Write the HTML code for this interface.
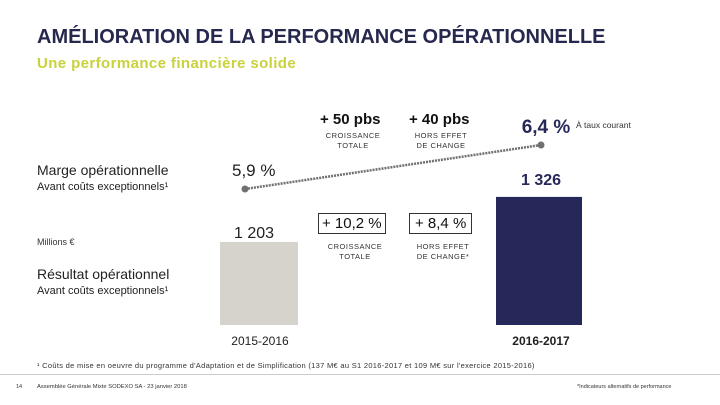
<!DOCTYPE html>
<html><head><meta charset="utf-8"><style>
body{margin:0;width:720px;height:405px;overflow:hidden;background:#fff;font-family:"Liberation Sans",sans-serif;position:relative}
.a{position:absolute;white-space:nowrap}
.s{font-size:7.5px;color:#333;text-align:center;letter-spacing:0.5px;line-height:10px}
</style></head><body>
<div class="a" style="left:37px;top:26px;font-size:20px;font-weight:bold;color:#27284d">AMÉLIORATION DE LA PERFORMANCE OPÉRATIONNELLE</div>
<div class="a" style="left:37px;top:55px;font-size:15px;letter-spacing:0.4px;font-weight:bold;color:#c9d23c">Une performance financière solide</div>

<div class="a" style="left:37px;top:162px;font-size:14px;color:#222">Marge opérationnelle</div>
<div class="a" style="left:37px;top:181px;font-size:11px;color:#222">Avant coûts exceptionnels¹</div>
<div class="a" style="left:37px;top:237px;font-size:9px;color:#333">Millions €</div>
<div class="a" style="left:37px;top:266px;font-size:14px;color:#222">Résultat opérationnel</div>
<div class="a" style="left:37px;top:285px;font-size:11px;color:#222">Avant coûts exceptionnels¹</div>

<div class="a" style="left:320px;top:111px;font-size:15px;font-weight:bold;color:#111">+ 50 pbs</div>
<div class="a s" style="left:318px;top:131px;width:70px">CROISSANCE<br>TOTALE</div>
<div class="a" style="left:409px;top:111px;font-size:15px;font-weight:bold;color:#111">+ 40 pbs</div>
<div class="a s" style="left:406px;top:131px;width:70px">HORS EFFET<br>DE CHANGE</div>

<div class="a" style="left:318px;top:213px;border:1px solid #333;padding:1px 3px;font-size:15px;color:#111">+ 10,2 %</div>
<div class="a s" style="left:317px;top:242px;width:76px">CROISSANCE<br>TOTALE</div>
<div class="a" style="left:409px;top:213px;border:1px solid #333;padding:1px 5px;font-size:15px;color:#111">+ 8,4 %</div>
<div class="a s" style="left:405px;top:242px;width:76px">HORS EFFET<br>DE CHANGE*</div>

<svg id="c" class="a" style="left:0;top:0" width="720" height="405"></svg>

<div class="a" style="left:576px;top:120px;font-size:8.5px;color:#333">À taux courant</div>

<div style="position:absolute;left:0;top:374px;width:720px;height:1px;background:#ccc"></div>
<div class="a" style="left:37px;top:361px;font-size:7.5px;letter-spacing:0.3px;color:#333">¹ Coûts de mise en oeuvre du programme d'Adaptation et de Simplification (137 M€ au S1 2016-2017 et 109 M€ sur l'exercice 2015-2016)</div>
<div class="a" style="left:16px;top:384px;font-size:5.5px;color:#333">14</div>
<div class="a" style="left:37px;top:384px;font-size:5.8px;color:#333">Assemblée Générale Mixte SODEXO SA - 23 janvier 2018</div>
<div class="a" style="left:577px;top:384px;font-size:5.5px;color:#333">*Indicateurs alternatifs de performance</div>

<script>
const categories=["2015-2016","2016-2017"];
const resultValues=[1203,1326];
const resultLabels=["1 203","1 326"];
const marginValues=[5.9,6.4];
const marginLabels=["5,9 %","6,4 %"];
const svg=document.getElementById('c');const NS='http://www.w3.org/2000/svg';
const cx=[259,539],bw=[78,86],colors=["#d6d3cc","#27285a"];
const yb=v=>325-(v-976)*0.366;
const yl=v=>189-(v-5.9)*88;
function mk(t,a){const e=document.createElementNS(NS,t);for(const k in a)e.setAttribute(k,a[k]);svg.appendChild(e);return e;}
categories.forEach((c,i)=>{
 const r=mk('rect',{x:cx[i]-bw[i]/2,y:yb(resultValues[i]),width:bw[i],height:325-yb(resultValues[i]),fill:colors[i]});
 
 
 const t=mk('text',{x:i?541:254,y:yb(resultValues[i])-(i?12:4),'text-anchor':'middle','font-size':16,'font-weight':i?'bold':'normal',fill:i?'#27285a':'#222','font-family':'Liberation Sans'});
 t.textContent=resultLabels[i];
 
 
 const x=mk('text',{x:i?541:260,y:345,'text-anchor':'middle','font-size':12,'font-weight':i?'bold':'normal',fill:'#222','font-family':'Liberation Sans'});
 x.textContent=c;
 
 
});
const lx=[245,541];
const ln=mk('line',{x1:lx[0],y1:yl(marginValues[0]),x2:lx[1],y2:yl(marginValues[1]),stroke:'#707070','stroke-width':2.5,'stroke-dasharray':'2 1'});


marginValues.forEach((v,i)=>{
 const p=mk('circle',{cx:lx[i],cy:yl(v),r:3.5,fill:'#707070'});
 
 
 const t=mk('text',{x:i?546:232,y:yl(v)-(i?12:13),'text-anchor':i?'middle':'start','font-size':i?19:17,'font-weight':i?'bold':'normal',fill:i?'#27285a':'#222','font-family':'Liberation Sans'});
 t.textContent=marginLabels[i];
 
 
});
</script>
</body></html>
